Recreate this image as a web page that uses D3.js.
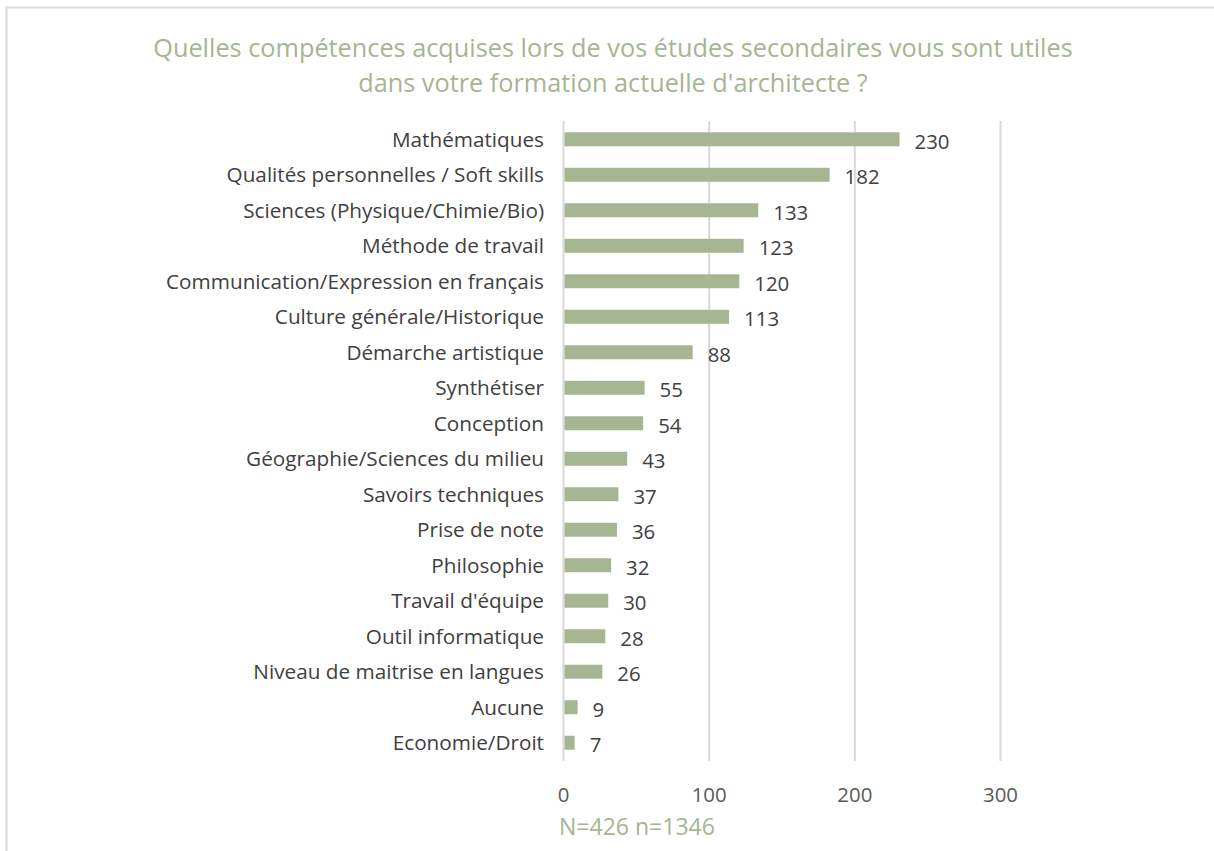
<!DOCTYPE html>
<html><head><meta charset="utf-8">
<script src="https://cdn.jsdelivr.net/npm/d3@7"></script>
<style>
html,body{margin:0;padding:0;background:#fff;}
svg{display:block;}
</style></head>
<body>
<svg id="chart" width="1214" height="851"></svg>
<script>
const categories = [
  "Mathématiques",
  "Qualités personnelles / Soft skills",
  "Sciences (Physique/Chimie/Bio)",
  "Méthode de travail",
  "Communication/Expression en français",
  "Culture générale/Historique",
  "Démarche artistique",
  "Synthétiser",
  "Conception",
  "Géographie/Sciences du milieu",
  "Savoirs techniques",
  "Prise de note",
  "Philosophie",
  "Travail d'équipe",
  "Outil informatique",
  "Niveau de maitrise en langues",
  "Aucune",
  "Economie/Droit"
];
const values = [230, 182, 133, 123, 120, 113, 88, 55, 54, 43, 37, 36, 32, 30, 28, 26, 9, 7];
const tickValues = [0, 100, 200, 300];
const titleLines = [
  "Quelles compétences acquises lors de vos études secondaires vous sont utiles",
  "dans votre formation actuelle d'architecte ?"
];
const footnote = "N=426 n=1346";

const FONT = "'Open Sans', Lato, sans-serif";
const GREEN = "#a6b592";
const svg = d3.select("#chart");

// measure helper: font size so that a string reaches a target width
function fitSize(str, target, weight) {
  const t = svg.append("text").attr("font-family", FONT).attr("font-size", 100)
    .attr("font-weight", weight || 400).text(str);
  const w = t.node().getComputedTextLength();
  t.remove();
  return 100 * target / w;
}
const catSize = fitSize("Communication/Expression en français", 378);
const tickSize = fitSize("100", 35);
const valSize = fitSize("230", 35);
const titleSize = fitSize(titleLines[0], 920);
const footSize = fitSize(footnote, 156);

// outer border
svg.append("rect").attr("x", 6.5).attr("y", 7.5).attr("width", 1300).attr("height", 1000)
  .attr("fill", "none").attr("stroke", "#d9d9d9").attr("stroke-width", 2);

const x = d3.scaleLinear().domain([0, 300]).range([563.5, 1000.5]);
const y = d3.scaleBand().domain(categories).range([121, 761]).paddingInner(0.606).paddingOuter(0.318);

// gridlines
svg.append("g").selectAll("line").data(tickValues).join("line")
  .attr("x1", d => x(d)).attr("x2", d => x(d))
  .attr("y1", 121).attr("y2", 761)
  .attr("stroke", "#d9d9d9").attr("stroke-width", 2);

// bars
svg.append("g").selectAll("rect").data(values).join("rect")
  .attr("x", x(0) + 1)
  .attr("y", (d, i) => y(categories[i]))
  .attr("width", d => x(d) - x(0))
  .attr("height", y.bandwidth())
  .attr("fill", GREEN);

// value labels
svg.append("g").selectAll("text").data(values).join("text")
  .attr("x", d => x(d) + 16)
  .attr("y", (d, i) => y(categories[i]) + y.bandwidth() / 2 + 2)
  .attr("dy", "0.36em")
  .attr("font-family", FONT).attr("font-size", valSize).attr("fill", "#404040")
  .text(d => d);

// category labels
svg.append("g").selectAll("text").data(categories).join("text")
  .attr("x", 544)
  .attr("y", d => y(d) + y.bandwidth() / 2)
  .attr("dy", "0.36em")
  .attr("text-anchor", "end")
  .attr("font-family", FONT).attr("font-size", catSize).attr("fill", "#404040")
  .text(d => d);

// x axis labels
svg.append("g").selectAll("text").data(tickValues).join("text")
  .attr("x", d => x(d))
  .attr("y", 795)
  .attr("dy", "0.36em")
  .attr("text-anchor", "middle")
  .attr("font-family", FONT).attr("font-size", tickSize).attr("fill", "#595959")
  .text(d => d);

// title
svg.append("g").selectAll("text").data(titleLines).join("text")
  .attr("x", 613)
  .attr("y", (d, i) => 48 + i * 35)
  .attr("dy", "0.36em")
  .attr("text-anchor", "middle")
  .attr("font-family", FONT).attr("font-size", titleSize).attr("fill", GREEN)
  .text(d => d);

// footnote
svg.append("text").attr("x", 559).attr("y", 827).attr("dy", "0.36em")
  .attr("font-family", FONT).attr("font-size", footSize).attr("fill", GREEN)
  .text(footnote);
</script>
</body></html>
